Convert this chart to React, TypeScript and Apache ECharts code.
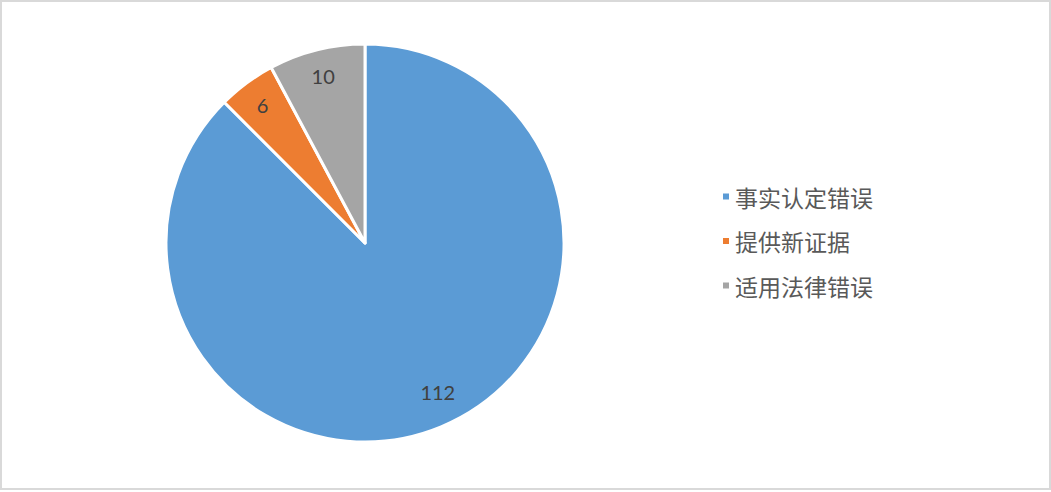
import React, { useEffect, useRef } from "react";
import * as echarts from "echarts";

const categories = ["事实认定错误", "提供新证据", "适用法律错误"];
const values = [112, 6, 10];
const colors = ["#5B9BD5", "#ED7D31", "#A5A5A5"];
const labelOffsets = [[7, -10], [0, 0], [0, 0]];

export default function App() {
  const ref = useRef<HTMLDivElement>(null);
  useEffect(() => {
    if (!ref.current) return;
    const chart = echarts.init(ref.current, null, { renderer: "svg" });
    const data = categories.map((name, i) => ({
      name,
      value: values[i],
      itemStyle: { color: colors[i] },
    }));
    chart.setOption({
      animation: false,
      legend: {
        orient: "vertical",
        left: 716,
        top: 180,
        itemWidth: 8,
        itemHeight: 8,
        itemGap: 21.5,
        itemTextGap: 10,
        icon: "rect",
        data: categories,
        textStyle: {
          fontSize: 23,
          color: "#595959",
          fontFamily: "Noto Sans CJK SC",
        },
      },
      series: [
        {
          type: "pie",
          center: [365, 243],
          radius: [0, 199],
          startAngle: 90,
          clockwise: true,
          silent: true,
          label: { show: false },
          labelLine: { show: false },
          itemStyle: { borderColor: "#fff", borderWidth: 3 },
          data,
        },
        {
          type: "pie",
          center: [365, 243],
          radius: [159, 179],
          startAngle: 90,
          clockwise: true,
          silent: true,
          label: {
            show: true,
            position: "inside",
            formatter: "{c}",
            fontSize: 20,
            color: "#404040",
            fontFamily: "Lato",
          },
          labelLine: { show: false },
          itemStyle: { color: "rgba(0,0,0,0)", borderWidth: 0 },
          data: categories.map((name, i) => ({
            name,
            value: values[i],
            label: { offset: labelOffsets[i] },
          })),
        },
      ],
    });
    return () => chart.dispose();
  }, []);
  return (
    <div
      style={{
        position: "absolute",
        left: 0,
        top: 0,
        width: 1051,
        height: 490,
        background: "#fff",
      }}
    >
      <div ref={ref} style={{ position: "absolute", left: 0, top: 0, width: 1051, height: 490 }} />
      <div
        style={{
          position: "absolute",
          left: 0,
          top: 0,
          width: 1051,
          height: 490,
          boxSizing: "border-box",
          border: "2px solid #d9d9d9",
          pointerEvents: "none",
        }}
      />
    </div>
  );
}
